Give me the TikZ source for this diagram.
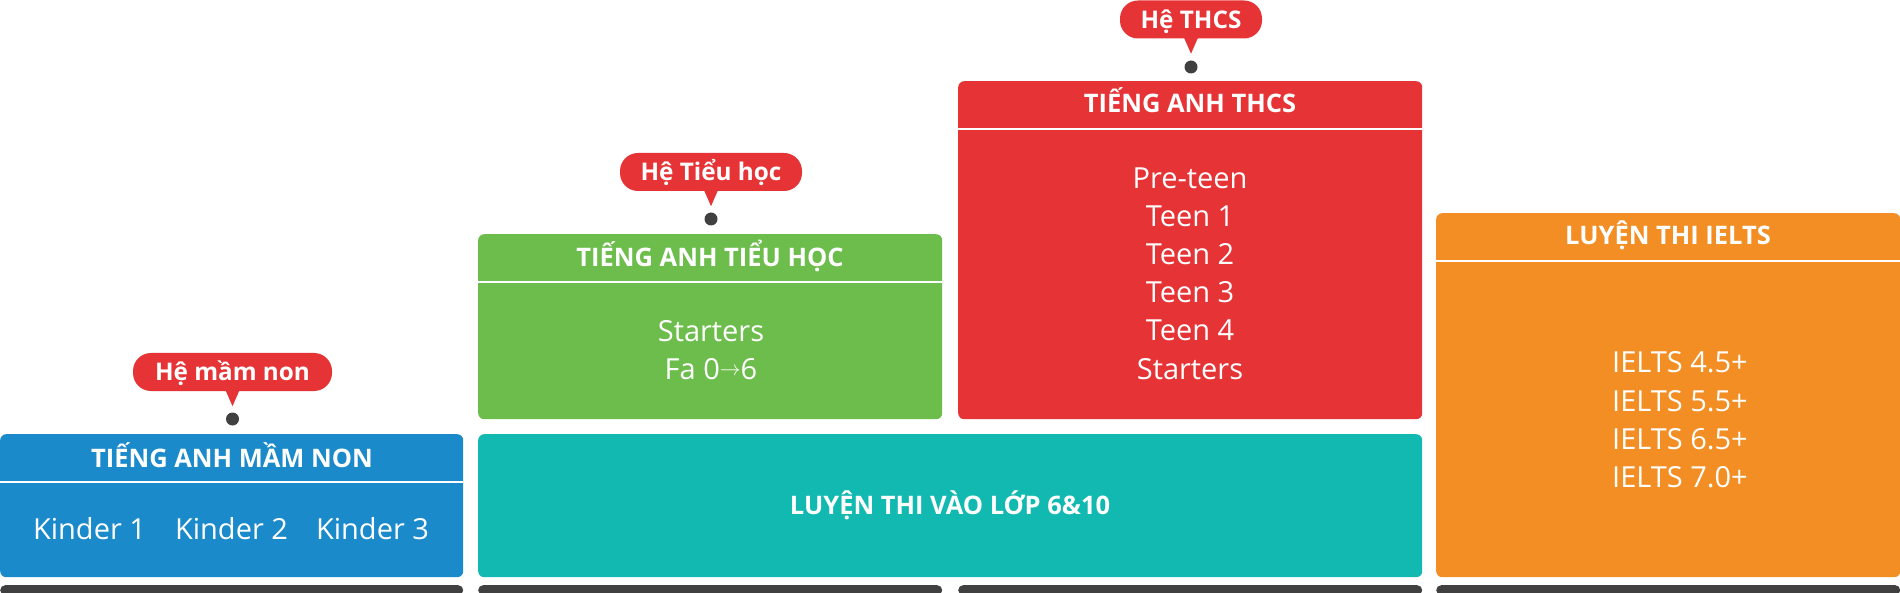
\documentclass[tikz,border=0pt]{standalone}
\usepackage{fontspec}
\setmainfont{Open Sans}
\definecolor{cblue}{HTML}{1A8ACB}
\definecolor{cgreen}{HTML}{6CBD4B}
\definecolor{cred}{HTML}{E63336}
\definecolor{cteal}{HTML}{12B9B0}
\definecolor{corange}{HTML}{F28E23}
\definecolor{cdark}{HTML}{404041}
\tikzset{
  box/.style={fill=#1, draw=none, rounded corners=6pt, anchor=north west, inner sep=0pt},
  hline/.style={draw=white, line width=1.6pt},
  head/.style={text=white, font=\bfseries\fontsize{25.5}{30}\selectfont, anchor=base, inner sep=0pt},
  body/.style={text=white, font=\fontsize{29}{35}\selectfont, anchor=base, inner sep=0pt},
  bubble/.style={fill=cred, rounded corners=18pt, text=white, font=\bfseries\fontsize{24.3}{28}\selectfont, inner sep=0pt, minimum height=38pt, text height=17.3pt, text depth=0pt},
  pointer/.style={fill=cred},
  tipdot/.style={circle, fill=cdark, inner sep=0pt, minimum size=13pt},
  bar/.style={fill=cdark, draw=none, rounded corners=5pt, anchor=north west, inner sep=0pt, minimum height=10pt},
}
\begin{document}
\begin{tikzpicture}[x=1pt,y=-1pt]
\useasboundingbox (0,0) rectangle (1900,593);
% boxes
\node[box=cblue, minimum width=463pt, minimum height=143pt] (mn) at (0,434) {};
\node[box=cgreen, minimum width=464pt, minimum height=185pt] (th) at (478,234) {};
\node[box=cred, minimum width=464pt, minimum height=338pt] (cs) at (958,81) {};
\node[box=cteal, minimum width=944pt, minimum height=143pt] (lt) at (478,434) {};
\node[box=corange, minimum width=464pt, minimum height=364pt] (ie) at (1436,213) {};
% header separators
\draw[hline] ([yshift=-48pt]mn.north west) -- ([yshift=-48pt]mn.north east);
\draw[hline] ([yshift=-48pt]th.north west) -- ([yshift=-48pt]th.north east);
\draw[hline] ([yshift=-48pt]cs.north west) -- ([yshift=-48pt]cs.north east);
\draw[hline] ([yshift=-48pt]ie.north west) -- ([yshift=-48pt]ie.north east);
% headers
\node[head] (mnh) at (232,467) {TIẾNG ANH MẦM NON};
\node[head] (thh) at (710,267) {TIẾNG ANH TIỂU HỌC};
\node[head] (csh) at (1190,113) {TIẾNG ANH THCS};
\node[head] (ieh) at (1668,245) {LUYỆN THI IELTS};
\node[head] (lth) at (950,514) {LUYỆN THI VÀO LỚP 6\&10};
% bodies
\node[body] (k1) at (89.5,539) {Kinder 1};
\node[body] (k2) at (231.5,539) {Kinder 2};
\node[body] (k3) at (372.5,539) {Kinder 3};
\node[body] (t1) at (711,342) {Starters};
\node[body] (t2) at (711,379) {Fa 0\raisebox{3.5pt}{\fontsize{22}{22}\selectfont$\rightarrow$}6};
\node[body] (c1) at (1190,189) {Pre-teen};
\node[body] (c2) at (1190,227) {Teen 1};
\node[body] (c3) at (1190,265) {Teen 2};
\node[body] (c4) at (1190,303) {Teen 3};
\node[body] (c5) at (1190,341) {Teen 4};
\node[body] (c6) at (1190,380) {Starters};
\node[body] (i1) at (1680,373) {IELTS 4.5+};
\node[body] (i2) at (1680,411) {IELTS 5.5+};
\node[body] (i3) at (1680,449) {IELTS 6.5+};
\node[body] (i4) at (1680,487) {IELTS 7.0+};
% bubbles
\node[bubble, minimum width=199pt] (b1) at (232.5,372) {Hệ mầm non};
\node[bubble, minimum width=182pt] (b2) at (711,172) {Hệ Tiểu học};
\node[bubble, minimum width=142pt] (b3) at (1191,19.5) {Hệ THCS};
\fill[pointer] ([xshift=-7pt,yshift=1pt]b1.south) -- ([xshift=7pt,yshift=1pt]b1.south) -- ([yshift=-15pt]b1.south) -- cycle;
\fill[pointer] ([xshift=-7pt,yshift=1pt]b2.south) -- ([xshift=7pt,yshift=1pt]b2.south) -- ([yshift=-15pt]b2.south) -- cycle;
\fill[pointer] ([xshift=-7pt,yshift=1pt]b3.south) -- ([xshift=7pt,yshift=1pt]b3.south) -- ([yshift=-15pt]b3.south) -- cycle;
\node[tipdot] (d1) at (232.5,419) {};
\node[tipdot] (d2) at (711,219) {};
\node[tipdot] (d3) at (1191,67) {};
% bottom bars
\node[bar, minimum width=463pt] (r1) at (0,585) {};
\node[bar, minimum width=464pt] (r2) at (478,585) {};
\node[bar, minimum width=464pt] (r3) at (958,585) {};
\node[bar, minimum width=464pt] (r4) at (1436,585) {};
\end{tikzpicture}
\end{document}
